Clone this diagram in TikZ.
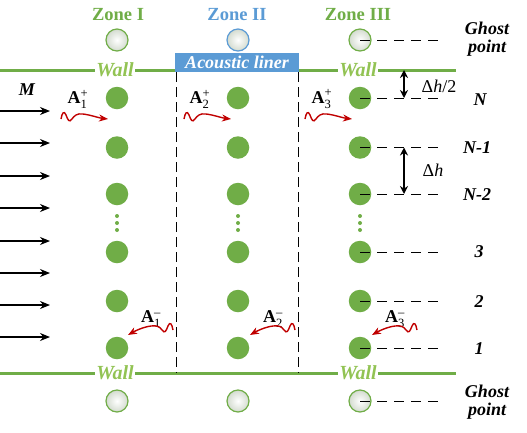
\documentclass[tikz,border=0pt]{standalone}
\usepackage{amsmath}
\usepackage{fontspec}
\setmainfont{Liberation Serif}
\usetikzlibrary{arrows.meta}
\definecolor{gr}{HTML}{70AD47}
\definecolor{wallc}{HTML}{92C353}
\definecolor{bl}{HTML}{5B9BD5}
\definecolor{dred}{HTML}{C00000}
\definecolor{ghostfill}{HTML}{D3DBCF}
\begin{document}
\begin{tikzpicture}[x=1pt,y=-1pt,
  every node/.style={font=\fontsize{18}{21}\selectfont},
  pt/.style={circle,fill=gr,minimum size=22.5pt,inner sep=0pt},
  ghost/.style={circle,draw=gr,line width=1.2pt,inner color=white,outer color=ghostfill,minimum size=22pt,inner sep=0pt},
  smalldot/.style={circle,fill=gr,minimum size=4pt,inner sep=0pt},
  wallline/.style={gr,line width=3pt},
  walllabel/.style={fill=white,text=wallc,font=\fontsize{20}{22}\selectfont\bfseries\itshape,inner sep=1pt},
  zone/.style={font=\fontsize{18.5}{21}\selectfont\bfseries},
  rlab/.style={font=\fontsize{18}{21}\selectfont\bfseries\itshape,align=center},
  hdash/.style={dash pattern=on 10pt off 7pt,line width=1pt},
  vdash/.style={dash pattern=on 10pt off 5pt,line width=1pt},
  flow/.style={-{Stealth[length=10pt,width=8pt]},line width=1.2pt},
  dim/.style={{Stealth[length=8pt,width=8pt]}-{Stealth[length=8pt,width=8pt]},line width=1.3pt},
  wave/.style={dred,line width=1.4pt,-{Stealth[length=9pt,width=7pt]}},
  alab/.style={font=\fontsize{18}{21}\selectfont}
]
\useasboundingbox (0,0) rectangle (527,432);

% zone labels
\node[zone,text=gr] (z1) at (118,15) {Zone I};
\node[zone,text=bl] (z2) at (237,15) {Zone II};
\node[zone,text=gr] (z3) at (358,15) {Zone III};

% walls
\draw[wallline] (0,70) -- (456,70);
\draw[wallline] (0,373) -- (456,373);

% vertical dashed zone borders
\draw[vdash] (176,72) -- (176,373);
\draw[vdash] (298,72) -- (298,373);

% acoustic liner
\node[fill=bl,text=white,minimum width=124pt,minimum height=19pt,inner sep=0pt,font=\fontsize{18}{21}\selectfont\bfseries\itshape] (liner) at (237,62.5) {Acoustic liner};

% wall labels
\node[walllabel] (w1) at (115,70) {Wall};
\node[walllabel] (w3) at (358,70) {Wall};
\node[walllabel] (w1b) at (115,373) {Wall};
\node[walllabel] (w3b) at (358,373) {Wall};

% ghost points
\node[ghost] (g1t) at (117,40) {};
\node[ghost,draw=bl] (g2t) at (238,40) {};
\node[ghost] (g3t) at (360,40) {};
\node[ghost] (g1b) at (117,401) {};
\node[ghost] (g2b) at (238,401) {};
\node[ghost] (g3b) at (360,401) {};

% interior points
\foreach \c/\x in {1/117,2/238,3/360}{
  \node[pt] (p\c N) at (\x,98) {};
  \node[pt] (p\c M) at (\x,147.5) {};
  \node[pt] (p\c L) at (\x,194) {};
  \node[pt] (p\c c) at (\x,252) {};
  \node[pt] (p\c b) at (\x,301) {};
  \node[pt] (p\c a) at (\x,348) {};
  \node[smalldot] (d\c a) at (\x,216) {};
  \node[smalldot] (d\c b) at (\x,223) {};
  \node[smalldot] (d\c c) at (\x,230) {};
}

% right dashed lines
\coordinate (eGt) at (443,40);
\coordinate (eN) at (443,98);
\coordinate (eM) at (443,147.5);
\coordinate (eL) at (443,194);
\coordinate (ec) at (443,252);
\coordinate (eb) at (443,301);
\coordinate (ea) at (443,348);
\coordinate (eGb) at (443,401);
\draw[hdash] (g3t.center) -- (eGt);
\draw[hdash] (p3N.center) -- (eN);
\draw[hdash] (p3M.center) -- (eM);
\draw[hdash] (p3L.center) -- (eL);
\draw[hdash] (p3c.center) -- (ec);
\draw[hdash] (p3b.center) -- (eb);
\draw[hdash] (p3a.center) -- (ea);
\draw[hdash] (g3b.center) -- (eGb);

% right labels
\node[rlab] (lgt) at (487,39) {Ghost\\[-3pt]point};
\node[rlab] (lN) at (480,100) {N};
\node[rlab] (lM) at (477,148) {N-1};
\node[rlab] (lL) at (477,195) {N-2};
\node[rlab] (l3) at (479,252) {3};
\node[rlab] (l2) at (479,302) {2};
\node[rlab] (l1) at (479,349) {1};
\node[rlab] (lgb) at (487,402) {Ghost\\[-3pt]point};

% dimension arrows
\coordinate (dA) at (404,70);
\coordinate (dB) at (404,98);
\coordinate (dC) at (404,147.5);
\coordinate (dD) at (404,194);
\draw[dim] (dA) -- (dB);
\draw[dim] (dC) -- (dD);
\node[font=\fontsize{18}{21}\selectfont] (dh2) at (439,86) {Δ\textit{h}/2};
\node[font=\fontsize{18}{21}\selectfont] (dh) at (433,170) {Δ\textit{h}};

% Mach flow arrows
\node[rlab] (M) at (27,90) {M};
\foreach \y [count=\i] in {111,143,176,208,241,273,305,337}{
  \coordinate (fs\i) at (0,\y);
  \coordinate (fe\i) at (50,\y);
  \draw[flow] (fs\i) -- (fe\i);
}

% wave labels
\node[alab] (ap1) at (78,99) {\textbf{A}$_{\text{1}}^{\text{+}}$};
\node[alab] (ap2) at (200,99) {\textbf{A}$_{\text{2}}^{\text{+}}$};
\node[alab] (ap3) at (322,99) {\textbf{A}$_{\text{3}}^{\text{+}}$};
\node[alab] (am1) at (151,319) {\textbf{A}$_{\text{1}}^{\text{--}}$};
\node[alab] (am2) at (273,319) {\textbf{A}$_{\text{2}}^{\text{--}}$};
\node[alab] (am3) at (395,319) {\textbf{A}$_{\text{3}}^{\text{--}}$};

% waves
\foreach \x in {61,184,305}{
  \draw[wave,shift={(\x,119)}] (0,0) .. controls (1,-6) and (3,-9) .. (5,-4)
     .. controls (7,1) and (8,4) .. (11,0)
     .. controls (13,-3) and (16,-6) .. (22,-5)
     .. controls (30,-4) and (38,-1) .. (47,0);
}
\foreach \x in {173,295,417}{
  \draw[wave,shift={(\x,330)},xscale=-1] (0,0) .. controls (1,-6) and (3,-9) .. (5,-4)
     .. controls (7,1) and (8,4) .. (11,0)
     .. controls (13,-3) and (16,-5) .. (22,-4)
     .. controls (30,-3) and (38,1) .. (45,5);
}
\end{tikzpicture}
\end{document}
